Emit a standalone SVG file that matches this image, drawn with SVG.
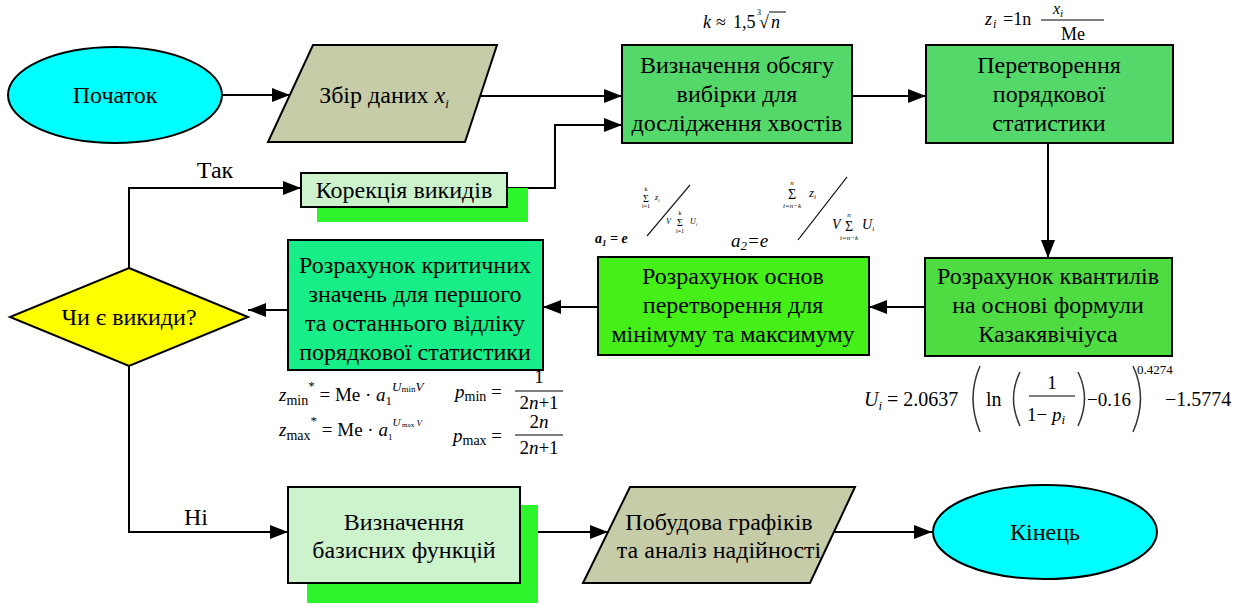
<svg xmlns="http://www.w3.org/2000/svg" width="1244" height="604" viewBox="0 0 1244 604">
<style>
.t{font-family:'Liberation Serif',serif;font-size:24px;fill:#000;text-anchor:middle}
.m{font-family:'Liberation Serif',serif;fill:#000}
.i{font-style:italic}
.s{stroke:#000;stroke-width:2}
.c{fill:none;stroke:#000;stroke-width:2}
</style>
<defs>
<marker id="ah" markerUnits="userSpaceOnUse" markerWidth="18" markerHeight="14" refX="18" refY="7" orient="auto">
<path d="M0,0 L18,7 L0,14 Z" fill="#000"/>
</marker>
</defs>

<g id="connectors">
<path class="c" d="M222,95 H290" marker-end="url(#ah)"/>
<path class="c" d="M480,96 H622" marker-end="url(#ah)"/>
<path class="c" d="M505,188 H555 V125 H622" marker-end="url(#ah)"/>
<path class="c" d="M852,96 H926" marker-end="url(#ah)"/>
<path class="c" d="M1048,143 V258" marker-end="url(#ah)"/>
<path class="c" d="M925,307 H869" marker-end="url(#ah)"/>
<path class="c" d="M598,307 H543" marker-end="url(#ah)"/>
<path class="c" d="M288,310 H248" marker-end="url(#ah)"/>
<path class="c" d="M129,268 V188 H301" marker-end="url(#ah)"/>
<path class="c" d="M129,366 V532 H288" marker-end="url(#ah)"/>
<path class="c" d="M520,532 H608" marker-end="url(#ah)"/>
<path class="c" d="M834,532 H932" marker-end="url(#ah)"/>
<text class="t" x="215" y="178" font-size="22">Так</text>
<text class="t" x="196" y="525" font-size="22">Ні</text>
</g>

<g id="start">
<ellipse class="s" cx="115" cy="95" rx="107" ry="48" fill="#00ffff"/>
<text class="t" x="115" y="103">Початок</text>
</g>

<g id="collect">
<polygon class="s" points="313,45 497,45 465,142 268,142" fill="#c6cca8"/>
<text class="t" x="384" y="103">Збір даних <tspan class="i">x</tspan><tspan class="i" font-size="13" dy="5">i</tspan></text>
</g>

<g id="sample">
<rect class="s" x="622" y="45" width="230" height="98" fill="#55d86a"/>
<text class="t" x="737" y="73">Визначення обсягу</text>
<text class="t" x="737" y="102">вибірки для</text>
<text class="t" x="737" y="131">дослідження хвостів</text>
</g>

<g id="transform">
<rect class="s" x="926" y="45" width="247" height="98" fill="#55d86a"/>
<text class="t" x="1049" y="73">Перетворення</text>
<text class="t" x="1049" y="102">порядкової</text>
<text class="t" x="1049" y="131">статистики</text>
</g>

<g id="quantiles">
<rect class="s" x="925" y="258" width="247" height="98" fill="#4edc42"/>
<text class="t" x="1048" y="284">Розрахунок квантилів</text>
<text class="t" x="1048" y="313">на основі формули</text>
<text class="t" x="1048" y="342">Казакявічіуса</text>
</g>

<g id="bases">
<rect class="s" x="598" y="257" width="271" height="98" fill="#44f018"/>
<text class="t" x="733" y="284">Розрахунок основ</text>
<text class="t" x="733" y="313">перетворення для</text>
<text class="t" x="733" y="342">мінімуму та максимуму</text>
</g>

<g id="critical">
<rect class="s" x="288" y="240" width="255" height="130" fill="#18ee88"/>
<text class="t" x="415" y="273">Розрахунок критичних</text>
<text class="t" x="415" y="302">значень для першого</text>
<text class="t" x="415" y="331">та останнього відліку</text>
<text class="t" x="415" y="360">порядкової статистики</text>
</g>

<g id="decision">
<polygon class="s" points="129,268 248,317 129,366 10,317" fill="#ffff00"/>
<text class="t" x="129" y="325">Чи є викиди?</text>
</g>

<g id="correction">
<rect x="317" y="188" width="211" height="34" fill="#2cf52c"/>
<rect class="s" x="301" y="173" width="206" height="34" fill="#cdf3cd"/>
<text class="t" x="404" y="198">Корекція викидів</text>
</g>

<g id="basis">
<rect x="307" y="505" width="231" height="98" fill="#2cf52c"/>
<rect class="s" x="288" y="487" width="232" height="96" fill="#cdf3cd"/>
<text class="t" x="404" y="530">Визначення</text>
<text class="t" x="404" y="558">базисних функцій</text>
</g>

<g id="plot">
<polygon class="s" points="630,487 855,487 810,583 583,583" fill="#c6cca8"/>
<text class="t" x="719" y="530">Побудова графіків</text>
<text class="t" x="719" y="558">та аналіз надійності</text>
</g>

<g id="end">
<ellipse class="s" cx="1045" cy="532" rx="112" ry="47" fill="#00ffff"/>
<text class="t" x="1045" y="540">Кінець</text>
</g>

<g id="formulas">
<text class="m i" x="703" y="28" font-size="18">k</text>
<text class="m" x="716" y="28" font-size="18">≈</text>
<text class="m" x="733" y="28" font-size="18">1,5</text>
<text class="m" x="757" y="15" font-size="8">3</text>
<text class="m" x="759" y="28" font-size="18">√</text>
<text class="m i" x="771" y="28" font-size="18">n</text>
<line x1="769" y1="12" x2="786" y2="12" stroke="#000" stroke-width="1"/>
<text class="m i" x="985" y="25" font-size="18" fill="#555">z</text>
<text class="m i" x="993" y="28" font-size="12" fill="#555">i</text>
<text class="m" x="1003" y="25" font-size="18">=1n</text>
<text class="m i" x="1053" y="14" font-size="16" fill="#555">x<tspan font-size="11" dy="3">i</tspan></text>
<line x1="1041" y1="20" x2="1104" y2="20" stroke="#000" stroke-width="1.2"/>
<text class="m" x="1073" y="40" font-size="18" text-anchor="middle">Me</text>
<text class="m i" x="595" y="243" font-size="14" font-weight="bold" fill="#222">a<tspan font-size="9" dy="3">1</tspan><tspan dy="-3"> = e</tspan></text>
<line x1="647" y1="236" x2="690" y2="185" stroke="#222" stroke-width="1.2"/>
<text class="m" x="646" y="202" font-size="10" fill="#777" text-anchor="middle">Σ</text>
<text class="m" x="646" y="191" font-size="6" fill="#777" text-anchor="middle">k</text>
<text class="m" x="646" y="208" font-size="6" fill="#777" text-anchor="middle">i=1</text>
<text class="m i" x="655" y="200" font-size="8" fill="#777">z<tspan font-size="5" dy="2">i</tspan></text>
<text class="m i" x="666" y="224" font-size="8" fill="#777">V</text>
<text class="m" x="680" y="226" font-size="10" fill="#777" text-anchor="middle">Σ</text>
<text class="m" x="680" y="215" font-size="6" fill="#777" text-anchor="middle">k</text>
<text class="m" x="680" y="233" font-size="6" fill="#777" text-anchor="middle">i=1</text>
<text class="m i" x="690" y="224" font-size="8" fill="#777">U<tspan font-size="5" dy="2">i</tspan></text>
<text class="m i" x="731" y="247" font-size="19">a<tspan font-size="13" dy="3">2</tspan><tspan dy="-3">=e</tspan></text>
<line x1="798" y1="240" x2="847" y2="177" stroke="#000" stroke-width="1.2"/>
<text class="m" x="792" y="199" font-size="14" fill="#444" text-anchor="middle">Σ</text>
<text class="m i" x="792" y="185" font-size="7" fill="#666" text-anchor="middle">n</text>
<text class="m i" x="792" y="208" font-size="7" fill="#666" text-anchor="middle">i=n−k</text>
<text class="m i" x="809" y="197" font-size="13" fill="#444">z<tspan font-size="7" dy="2">i</tspan></text>
<text class="m i" x="832" y="229" font-size="14" fill="#444">V</text>
<text class="m" x="849" y="231" font-size="14" fill="#444" text-anchor="middle">Σ</text>
<text class="m i" x="849" y="217" font-size="7" fill="#666" text-anchor="middle">n</text>
<text class="m i" x="849" y="240" font-size="7" fill="#666" text-anchor="middle">i=n−k</text>
<text class="m i" x="862" y="229" font-size="14" fill="#444">U<tspan font-size="7" dy="2">i</tspan></text>
<text class="m" x="279" y="401" font-size="19"><tspan class="i">z</tspan><tspan font-size="14" dy="4">min</tspan><tspan font-size="13" dy="-15">*</tspan><tspan dy="11"> = Me · </tspan><tspan class="i">a</tspan><tspan font-size="13" dy="4">1</tspan><tspan class="i" font-size="13" dy="-14">U</tspan><tspan font-size="9" dy="1">min</tspan><tspan class="i" font-size="13" dy="-1">V</tspan></text>
<text class="m" x="279" y="436" font-size="19" fill="#444"><tspan class="i">z</tspan><tspan font-size="14" dy="4">max</tspan><tspan font-size="13" dy="-15">*</tspan><tspan dy="11"> = Me · </tspan><tspan class="i">a</tspan><tspan font-size="9" dy="4">1</tspan><tspan class="i" font-size="11" dy="-14">U</tspan><tspan font-size="7" dy="1"> max</tspan><tspan class="i" font-size="9" dy="-1"> V</tspan></text>
<text class="m" x="455" y="398" font-size="19"><tspan class="i">p</tspan><tspan font-size="14" dy="3">min</tspan><tspan dy="-3"> =</tspan></text>
<text class="m" x="539" y="383" font-size="19" text-anchor="middle">1</text>
<line x1="515" y1="391" x2="563" y2="391" stroke="#000" stroke-width="1.2"/>
<text class="m" x="539" y="409" font-size="19" text-anchor="middle">2<tspan class="i">n</tspan>+1</text>
<text class="m" x="453" y="442" font-size="19"><tspan class="i">p</tspan><tspan font-size="14" dy="3">max</tspan><tspan dy="-3"> =</tspan></text>
<text class="m" x="539" y="428" font-size="19" text-anchor="middle">2<tspan class="i">n</tspan></text>
<line x1="515" y1="435" x2="563" y2="435" stroke="#000" stroke-width="1.2"/>
<text class="m" x="539" y="454" font-size="19" text-anchor="middle">2<tspan class="i">n</tspan>+1</text>
<text class="m" x="864" y="406" font-size="20"><tspan class="i">U</tspan><tspan class="i" font-size="13" dy="4">i</tspan><tspan dy="-4"> = 2.0637</tspan></text>
<path d="M980,366 Q966,398 980,432" fill="none" stroke="#333" stroke-width="1.5"/>
<text class="m" x="986" y="406" font-size="20">ln</text>
<path d="M1020,372 Q1007,398 1020,426" fill="none" stroke="#333" stroke-width="1.5"/>
<text class="m" x="1052" y="389" font-size="19" text-anchor="middle">1</text>
<line x1="1029" y1="396" x2="1075" y2="396" stroke="#000" stroke-width="1.2"/>
<text class="m" x="1027" y="421" font-size="19">1− <tspan class="i">p</tspan><tspan class="i" font-size="13" dy="3">i</tspan></text>
<path d="M1078,372 Q1091,398 1078,426" fill="none" stroke="#333" stroke-width="1.5"/>
<text class="m" x="1087" y="406" font-size="19">−0.16</text>
<path d="M1133,366 Q1148,398 1133,432" fill="none" stroke="#333" stroke-width="1.5"/>
<text class="m" x="1137" y="374" font-size="13">0.4274</text>
<text class="m" x="1165" y="406" font-size="20">−1.5774</text>
</g>
</svg>
